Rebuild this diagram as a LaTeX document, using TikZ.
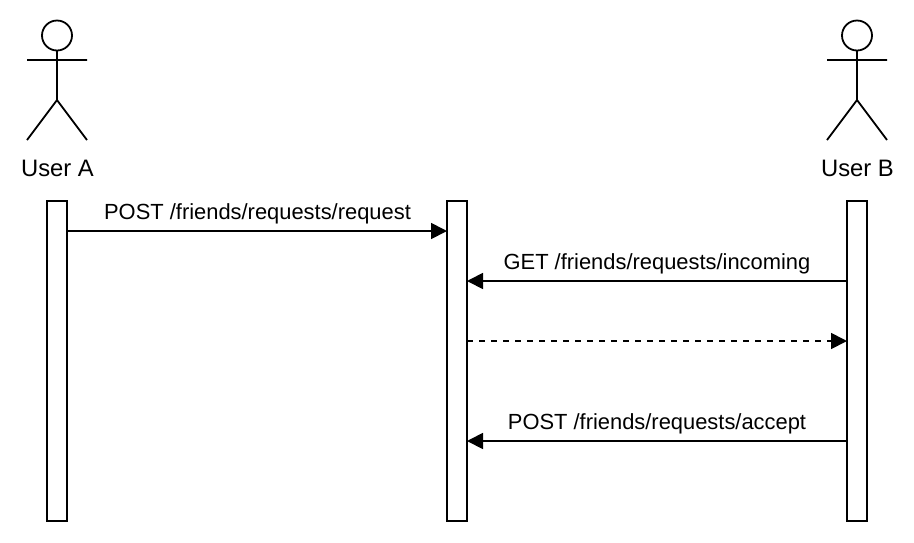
\documentclass[tikz,border=0pt]{standalone}
\usepackage{fontspec}
\setmainfont{Liberation Sans}
\usetikzlibrary{arrows.meta}
\begin{document}
\begin{tikzpicture}[x=1pt,y=-1pt,
  every node/.style={inner sep=0pt,outer sep=0pt},
  lifebar/.style={draw=black,fill=white,line width=1.8pt,minimum width=20pt,minimum height=320pt},
  actorlabel/.style={font=\fontsize{23.8}{28}\selectfont,text=black},
  msglabel/.style={font=\fontsize{21.9}{26}\selectfont,text=black},
  msg/.style={line width=1.8pt,-{Triangle[length=16pt,width=16pt]}},
  figure/.style={line width=1.8pt}]
\useasboundingbox (0,0) rectangle (914,542);
\fill[white] (0,0) rectangle (914,542);
\node[lifebar] (a) at (57,361) {};
\node[lifebar] (m) at (457,361) {};
\node[lifebar] (b) at (857,361) {};
\foreach \n/\x in {ua/57,ub/857}{
  \node[draw=black,circle,line width=1.8pt,minimum size=30pt,fill=white] (\n head) at (\x,35.5) {};
  \coordinate (\n hip) at (\x,100);
  \coordinate (\n al) at (\x-30,60);
  \coordinate (\n ar) at (\x+30,60);
  \coordinate (\n fl) at (\x-30,140);
  \coordinate (\n fr) at (\x+30,140);
  \draw[figure] (\n head.south) -- (\n hip) (\n al) -- (\n ar) (\n fl) -- (\n hip) -- (\n fr);
}
\node[actorlabel] (la) at (57.5,168) {User A};
\node[actorlabel] (lb) at (857.5,168) {User B};
\coordinate (a1) at (67,231); \coordinate (m1) at (447,231);
\coordinate (b2) at (847,281); \coordinate (m2) at (467,281);
\coordinate (m3) at (467,341); \coordinate (b3) at (847,341);
\coordinate (b4) at (847,441); \coordinate (m4) at (467,441);
\draw[msg] (a1) -- (m1);
\draw[msg] (b2) -- (m2);
\draw[msg,dash pattern=on 6pt off 6pt] (m3) -- (b3);
\draw[msg] (b4) -- (m4);
\node[msglabel] (t1) at (257.5,214) {POST /friends/requests/request};
\node[msglabel] (t2) at (657,264) {GET /friends/requests/incoming};
\node[msglabel] (t4) at (657,424) {POST /friends/requests/accept};
\end{tikzpicture}
\end{document}
